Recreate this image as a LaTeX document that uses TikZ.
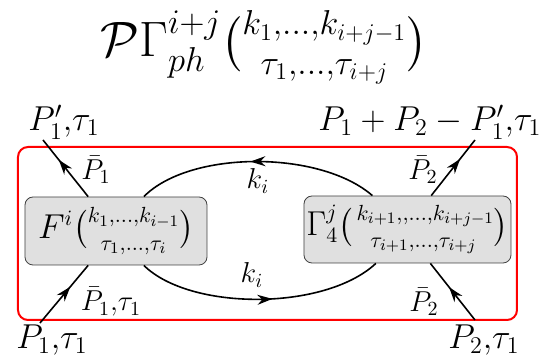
\documentclass[tikz,border=0pt]{standalone}
\usepackage{amsmath,amssymb,amsfonts}
\usepackage{tikz}
\usetikzlibrary{arrows.meta,decorations.markings}

\begin{document}
\begin{tikzpicture}[x=0.5pt, y=-0.5pt,
    vertex/.style={rectangle, rounded corners=4pt, draw=black!75, thin, fill=black!12, inner sep=1pt, font=\fontsize{16}{19}\selectfont},
    frame/.style={rectangle, rounded corners=5pt, draw=red, line width=1pt, inner sep=0pt},
    prop/.style={line width=0.8pt, black},
    midarr/.style={postaction={decorate}, decoration={markings,
        mark=at position #1 with {\arrow{Stealth[length=7.5pt,width=5pt]}}}}]

    \useasboundingbox (0,0) rectangle (543,358);

    % Title
    \node[font=\fontsize{23}{27}\selectfont, anchor=base, inner sep=0pt] (title) at (264,57)
        {$\mathcal{P}\Gamma^{i+j}_{ph}\tbinom{k_1,\ldots,k_{i+j-1}}{\tau_1,\ldots,\tau_{i+j}}$};

    % Frame
    \node[frame, minimum width=249.5pt, minimum height=86.5pt] (box) at (267.5,233.5) {};

    % Vertices
    \node[vertex, minimum width=91pt, minimum height=34pt] (F) at (116,231)
        {$F^{i}\tbinom{k_1,\ldots,k_{i-1}}{\tau_1,\ldots,\tau_i}$};
    \node[vertex, minimum width=103.5pt, minimum height=33.5pt] (G) at (407.5,229.5)
        {$\Gamma_4^{j}\tbinom{\,k_{i+1},,\ldots,k_{i+j-1}}{\tau_{i+1},\ldots,\tau_{i+j}}$};

    % Outer legs
    \coordinate (a1) at (43,140);
    \coordinate (a2) at (40,323);
    \coordinate (b1) at (475,140);
    \coordinate (b2) at (475,320);
    \node[font=\LARGE, inner sep=1pt] (la1) at (64,122) {$P_1'{,}\tau_1$};
    \node[font=\LARGE, inner sep=1pt] (lb1) at (430,122) {$P_1+P_2-P_1'{,}\tau_1$};
    \node[font=\LARGE, inner sep=1pt] (la2) at (52,340) {$P_1{,}\tau_1$};
    \node[font=\LARGE, inner sep=1pt] (lb2) at (484,340) {$P_2{,}\tau_1$};

    % Legs
    \draw[prop, midarr=0.65] (F.129) -- (a1);
    \draw[prop, midarr=0.63] (a2) -- (F.-129);
    \draw[prop, midarr=0.66] (G.55) -- (b1);
    \draw[prop, midarr=0.58] (b2) -- (G.-56);
    \node[font=\Large, inner sep=1pt] (pa1) at (96,170) {$\bar{P}_1$};
    \node[font=\Large, inner sep=1pt] (pa2) at (111,302) {$\bar{P}_1{,}\tau_1$};
    \node[font=\Large, inner sep=1pt] (pb1) at (423,170) {$\bar{P}_2$};
    \node[font=\Large, inner sep=1pt] (pb2) at (424,302) {$\bar{P}_2$};

    % Loop
    \draw[prop, midarr=0.53] (G.136) .. controls (320,150) and (190,150) .. (F.51);
    \draw[prop, midarr=0.55] (F.-51) .. controls (190,311) and (325,311) .. (G.-133);
    \node[font=\Large, inner sep=1pt] (k1) at (258,181) {$k_i$};
    \node[font=\Large, inner sep=1pt] (k2) at (252,275) {$k_i$};
\end{tikzpicture}
\end{document}
